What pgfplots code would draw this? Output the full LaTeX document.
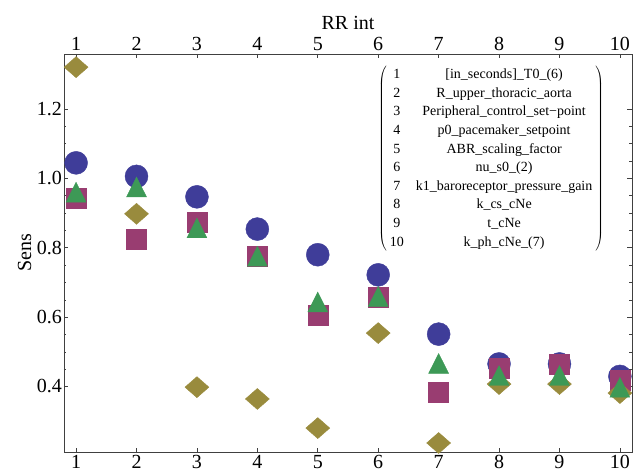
\documentclass[border=0pt]{standalone}
\usepackage{pgfplots}
\pgfplotsset{compat=1.18}
\usepackage{fontspec}
\setmainfont{Liberation Serif}
\definecolor{mblue}{rgb}{0.2472,0.24,0.6}
\definecolor{mpurple}{rgb}{0.6,0.24,0.4429}
\definecolor{mgold}{rgb}{0.6,0.547,0.24}
\definecolor{mgreen}{rgb}{0.24,0.6,0.3369}
\begin{document}
\begin{tikzpicture}
\useasboundingbox (-64bp,-24bp) rectangle (580bp,452bp);
\pgfplotsset{
  mybase/.style={
    at={(0,0)}, anchor=south west,
    scale only axis, width=568bp, height=398bp,
    xmin=0.8, xmax=10.2, ymin=0.211, ymax=1.359,
    xtick={1,2,...,10},
    /pgf/number format/assume math mode=true,
    tick label style={font=\fontsize{20bp}{24bp}\selectfont},
    label style={font=\fontsize{20bp}{24bp}\selectfont},
    tick align=inside,
    major tick length=4.5bp, minor tick length=2.5bp,
    every tick/.style={black!75, line width=0.6pt},
    axis line style={black!75, line width=0.7pt},
  }
}
\begin{axis}[mybase,
    ytick={0.4,0.6,...,1.21},
    minor y tick num=3,
    yticklabel style={/pgf/number format/.cd, fixed, fixed zerofill, precision=1, /tikz/.cd, inner xsep=2bp},
    ylabel={Sens},
    xticklabel pos=lower,
]
\addplot[only marks, mark=*, mark size=11.5bp, color=mblue, mark options={draw=none, fill=mblue}] coordinates {
(1,1.045) (2,1.006) (3,0.947) (4,0.854) (5,0.780) (6,0.722) (7,0.551) (8,0.465) (9,0.465) (10,0.429)};
\addplot[only marks, mark=square*, mark size=10bp, color=mpurple, mark options={draw=none, fill=mpurple}] coordinates {
(1,0.943) (2,0.826) (3,0.874) (4,0.777) (5,0.607) (6,0.657) (7,0.383) (8,0.453) (9,0.465) (10,0.419)};
\addplot[only marks, mark=diamond*, mark size=10.5bp, color=mgold, mark options={draw=none, fill=mgold, xscale=1.52}] coordinates {
(1,1.321) (2,0.898) (3,0.398) (4,0.364) (5,0.280) (6,0.554) (7,0.237) (8,0.407) (9,0.407) (10,0.381)};
\addplot[only marks, mark=triangle*, mark size=11.5bp, color=mgreen, mark options={draw=none, fill=mgreen, yscale=1.15}] coordinates {
(1,0.951) (2,0.966) (3,0.848) (4,0.766) (5,0.634) (6,0.650) (7,0.457) (8,0.422) (9,0.422) (10,0.388)};
\node at (rel axis cs:0.752,0.737) {%
  \fontsize{14bp}{18.6bp}\selectfont
  $\left(\vcenter{\hbox{%
  \begin{tabular}{@{\hspace{3bp}}c@{\hspace{12bp}}c@{\hspace{3bp}}}
  1 & [in\_seconds]\_T0\_(6)\\
  2 & R\_upper\_thoracic\_aorta\\
  3 & Peripheral\_control\_set−point\\
  4 & p0\_pacemaker\_setpoint\\
  5 & ABR\_scaling\_factor\\
  6 & nu\_s0\_(2)\\
  7 & k1\_baroreceptor\_pressure\_gain\\
  8 & k\_cs\_cNe\\
  9 & t\_cNe\\
  10 & k\_ph\_cNe\_(7)
  \end{tabular}}}\right)$};
\end{axis}
\begin{axis}[mybase,
    ytick=\empty,
    xticklabel pos=upper,
    xlabel={RR int},
    major tick length=0pt,
    axis line style={draw=none},
]
\end{axis}
\end{tikzpicture}
\end{document}
